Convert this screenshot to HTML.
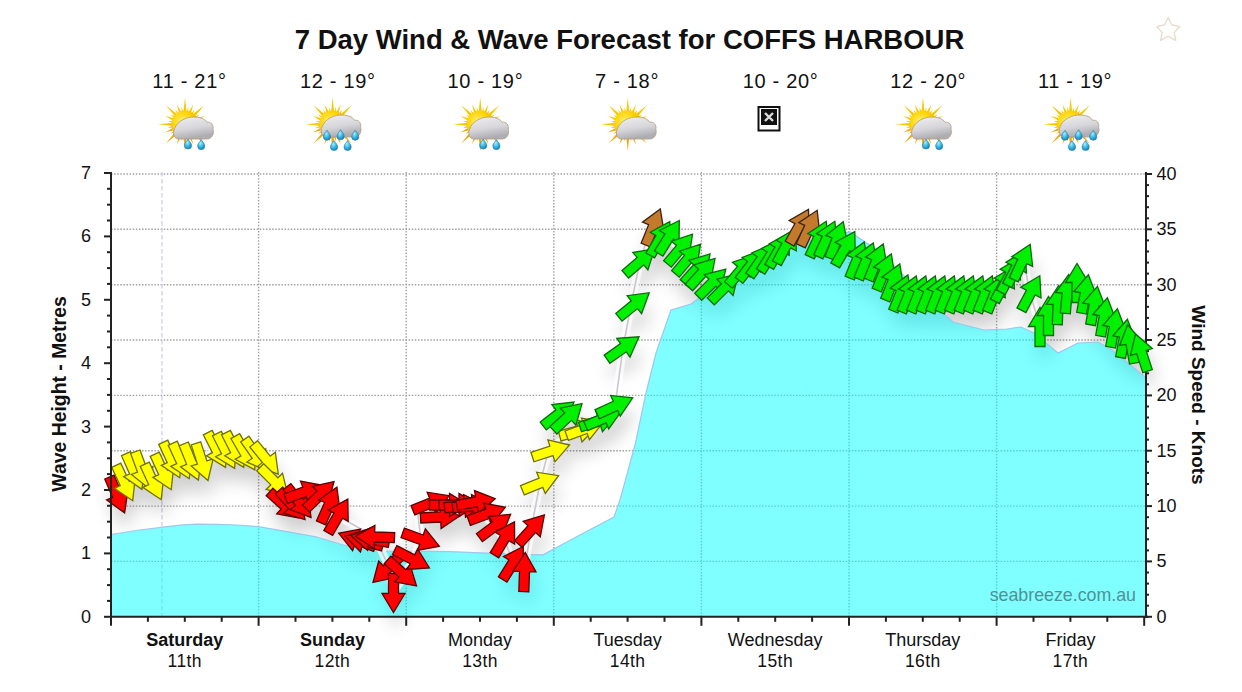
<!DOCTYPE html>
<html><head><meta charset="utf-8"><style>html,body{margin:0;padding:0;background:#fff;width:1242px;height:692px;overflow:hidden}svg{display:block}text{font-family:"Liberation Sans",sans-serif}</style></head>
<body><svg width="1242" height="692" viewBox="0 0 1242 692" font-family="Liberation Sans, sans-serif">
<defs>
<radialGradient id="sung" cx="0.4" cy="0.4" r="0.7"><stop offset="0" stop-color="#fff070"/><stop offset="0.55" stop-color="#ffd400"/><stop offset="1" stop-color="#f0a000"/></radialGradient>
<linearGradient id="cloudg" x1="0" y1="0" x2="0.3" y2="1"><stop offset="0" stop-color="#f0f0f2"/><stop offset="0.6" stop-color="#d6d6da"/><stop offset="1" stop-color="#aeaeb2"/></linearGradient>
<radialGradient id="dropg" cx="0.4" cy="0.35" r="0.7"><stop offset="0" stop-color="#9ff0ff"/><stop offset="0.6" stop-color="#30b0e0"/><stop offset="1" stop-color="#1a78b0"/></radialGradient>
<filter id="shadow" x="-10%" y="-10%" width="130%" height="140%"><feGaussianBlur stdDeviation="9"/><feOffset dx="3" dy="15"/></filter>
</defs>
<rect width="1242" height="692" fill="#fff"/>
<text x="629.5" y="48.8" text-anchor="middle" font-size="27.5" font-weight="bold" fill="#111">7 Day Wind &amp; Wave Forecast for COFFS HARBOUR</text><text x="152.3" y="87.5" font-size="20" letter-spacing="0.7" fill="#111">11 - 21°</text><text x="299.9" y="87.5" font-size="20" letter-spacing="0.7" fill="#111">12 - 19°</text><text x="447.5" y="87.5" font-size="20" letter-spacing="0.7" fill="#111">10 - 19°</text><text x="595.1" y="87.5" font-size="20" letter-spacing="0.7" fill="#111">7 - 18°</text><text x="742.7" y="87.5" font-size="20" letter-spacing="0.7" fill="#111">10 - 20°</text><text x="890.3" y="87.5" font-size="20" letter-spacing="0.7" fill="#111">12 - 20°</text><text x="1037.9" y="87.5" font-size="20" letter-spacing="0.7" fill="#111">11 - 19°</text><polygon points="1168.2,17.5 1171.6,24.8 1179.8,26.6 1174.2,32.6 1175.8,40.4 1168.2,36.4 1160.6,40.4 1162.2,32.6 1156.6,26.6 1164.8,24.8" fill="none" stroke="#ecdccb" stroke-width="1.4" stroke-linejoin="round"/>
<g transform="translate(185.0,124.3)"><polygon points="-1.6,-11.4 0.0,-27.0 1.6,-11.4" fill="#f6c800"/><polygon points="1.1,-11.4 3.4,-17.2 3.3,-11.0" fill="#f6c800"/><polygon points="3.0,-11.1 8.2,-19.9 5.7,-10.0" fill="#f6c800"/><polygon points="5.4,-10.1 9.7,-14.6 7.3,-8.9" fill="#f6c800"/><polygon points="6.9,-9.2 19.1,-19.1 9.2,-6.9" fill="#f6c800"/><polygon points="8.9,-7.3 14.6,-9.7 10.1,-5.4" fill="#f6c800"/><polygon points="10.0,-5.7 19.9,-8.2 11.1,-3.0" fill="#f6c800"/><polygon points="11.0,-3.3 17.2,-3.4 11.4,-1.1" fill="#f6c800"/><polygon points="11.4,-1.6 27.0,0.0 11.4,1.6" fill="#f6c800"/><polygon points="11.4,1.1 17.2,3.4 11.0,3.3" fill="#eeaa10"/><polygon points="11.1,3.0 19.9,8.2 10.0,5.7" fill="#eeaa10"/><polygon points="10.1,5.4 14.6,9.7 8.9,7.3" fill="#eeaa10"/><polygon points="9.2,6.9 19.1,19.1 6.9,9.2" fill="#eeaa10"/><polygon points="7.3,8.9 9.7,14.6 5.4,10.1" fill="#eeaa10"/><polygon points="5.7,10.0 8.2,19.9 3.0,11.1" fill="#eeaa10"/><polygon points="3.3,11.0 3.4,17.2 1.1,11.4" fill="#eeaa10"/><polygon points="1.6,11.4 0.0,27.0 -1.6,11.4" fill="#eeaa10"/><polygon points="-1.1,11.4 -3.4,17.2 -3.3,11.0" fill="#eeaa10"/><polygon points="-3.0,11.1 -8.2,19.9 -5.7,10.0" fill="#eeaa10"/><polygon points="-5.4,10.1 -9.7,14.6 -7.3,8.9" fill="#eeaa10"/><polygon points="-6.9,9.2 -19.1,19.1 -9.2,6.9" fill="#eeaa10"/><polygon points="-8.9,7.3 -14.6,9.7 -10.1,5.4" fill="#eeaa10"/><polygon points="-10.0,5.7 -19.9,8.2 -11.1,3.0" fill="#eeaa10"/><polygon points="-11.0,3.3 -17.2,3.4 -11.4,1.1" fill="#eeaa10"/><polygon points="-11.4,1.6 -27.0,0.0 -11.4,-1.6" fill="#f6c800"/><polygon points="-11.4,-1.1 -17.2,-3.4 -11.0,-3.3" fill="#f6c800"/><polygon points="-11.1,-3.0 -19.9,-8.2 -10.0,-5.7" fill="#f6c800"/><polygon points="-10.1,-5.4 -14.6,-9.7 -8.9,-7.3" fill="#f6c800"/><polygon points="-9.2,-6.9 -19.1,-19.1 -6.9,-9.2" fill="#f6c800"/><polygon points="-7.3,-8.9 -9.7,-14.6 -5.4,-10.1" fill="#f6c800"/><polygon points="-5.7,-10.0 -8.2,-19.9 -3.0,-11.1" fill="#f6c800"/><polygon points="-3.3,-11.0 -3.4,-17.2 -1.1,-11.4" fill="#f6c800"/><circle cx="0" cy="0" r="13.5" fill="url(#sung)"/><path transform="translate(0,0)" d="M-6,14.7 C-11,14.7 -12.5,9 -10.5,4.5 C-8,-3 2,-8 10,-7.2 C16,-7.2 20,-5 22,-2 C26,-3 29,1 28,5 C29.5,9 27,14.7 22,14.7 Z" fill="url(#cloudg)" stroke="#b09a80" stroke-width="0.8"/><path transform="translate(3,20.7)" d="M0,-6 C1.5,-3.5 3.6,-2 3.6,0.5 A3.6,3.6 0 1 1 -3.6,0.5 C-3.6,-2 -1.5,-3.5 0,-6 Z" fill="url(#dropg)" stroke="#2a80a8" stroke-width="0.6"/><path transform="translate(16.2,21.3)" d="M0,-6 C1.5,-3.5 3.6,-2 3.6,0.5 A3.6,3.6 0 1 1 -3.6,0.5 C-3.6,-2 -1.5,-3.5 0,-6 Z" fill="url(#dropg)" stroke="#2a80a8" stroke-width="0.6"/></g><g transform="translate(332.6,124.3)"><polygon points="-1.6,-11.4 0.0,-27.0 1.6,-11.4" fill="#f6c800"/><polygon points="1.1,-11.4 3.4,-17.2 3.3,-11.0" fill="#f6c800"/><polygon points="3.0,-11.1 8.2,-19.9 5.7,-10.0" fill="#f6c800"/><polygon points="5.4,-10.1 9.7,-14.6 7.3,-8.9" fill="#f6c800"/><polygon points="6.9,-9.2 19.1,-19.1 9.2,-6.9" fill="#f6c800"/><polygon points="8.9,-7.3 14.6,-9.7 10.1,-5.4" fill="#f6c800"/><polygon points="10.0,-5.7 19.9,-8.2 11.1,-3.0" fill="#f6c800"/><polygon points="11.0,-3.3 17.2,-3.4 11.4,-1.1" fill="#f6c800"/><polygon points="11.4,-1.6 27.0,0.0 11.4,1.6" fill="#f6c800"/><polygon points="11.4,1.1 17.2,3.4 11.0,3.3" fill="#eeaa10"/><polygon points="11.1,3.0 19.9,8.2 10.0,5.7" fill="#eeaa10"/><polygon points="10.1,5.4 14.6,9.7 8.9,7.3" fill="#eeaa10"/><polygon points="9.2,6.9 19.1,19.1 6.9,9.2" fill="#eeaa10"/><polygon points="7.3,8.9 9.7,14.6 5.4,10.1" fill="#eeaa10"/><polygon points="5.7,10.0 8.2,19.9 3.0,11.1" fill="#eeaa10"/><polygon points="3.3,11.0 3.4,17.2 1.1,11.4" fill="#eeaa10"/><polygon points="1.6,11.4 0.0,27.0 -1.6,11.4" fill="#eeaa10"/><polygon points="-1.1,11.4 -3.4,17.2 -3.3,11.0" fill="#eeaa10"/><polygon points="-3.0,11.1 -8.2,19.9 -5.7,10.0" fill="#eeaa10"/><polygon points="-5.4,10.1 -9.7,14.6 -7.3,8.9" fill="#eeaa10"/><polygon points="-6.9,9.2 -19.1,19.1 -9.2,6.9" fill="#eeaa10"/><polygon points="-8.9,7.3 -14.6,9.7 -10.1,5.4" fill="#eeaa10"/><polygon points="-10.0,5.7 -19.9,8.2 -11.1,3.0" fill="#eeaa10"/><polygon points="-11.0,3.3 -17.2,3.4 -11.4,1.1" fill="#eeaa10"/><polygon points="-11.4,1.6 -27.0,0.0 -11.4,-1.6" fill="#f6c800"/><polygon points="-11.4,-1.1 -17.2,-3.4 -11.0,-3.3" fill="#f6c800"/><polygon points="-11.1,-3.0 -19.9,-8.2 -10.0,-5.7" fill="#f6c800"/><polygon points="-10.1,-5.4 -14.6,-9.7 -8.9,-7.3" fill="#f6c800"/><polygon points="-9.2,-6.9 -19.1,-19.1 -6.9,-9.2" fill="#f6c800"/><polygon points="-7.3,-8.9 -9.7,-14.6 -5.4,-10.1" fill="#f6c800"/><polygon points="-5.7,-10.0 -8.2,-19.9 -3.0,-11.1" fill="#f6c800"/><polygon points="-3.3,-11.0 -3.4,-17.2 -1.1,-11.4" fill="#f6c800"/><circle cx="0" cy="0" r="13.5" fill="url(#sung)"/><path transform="translate(0,-2)" d="M-6,14.7 C-11,14.7 -12.5,9 -10.5,4.5 C-8,-3 2,-8 10,-7.2 C16,-7.2 20,-5 22,-2 C26,-3 29,1 28,5 C29.5,9 27,14.7 22,14.7 Z" fill="url(#cloudg)" stroke="#b09a80" stroke-width="0.8"/><path transform="translate(-5.6,11.9)" d="M0,-6 C1.5,-3.5 3.6,-2 3.6,0.5 A3.6,3.6 0 1 1 -3.6,0.5 C-3.6,-2 -1.5,-3.5 0,-6 Z" fill="url(#dropg)" stroke="#2a80a8" stroke-width="0.6"/><path transform="translate(8,11.4)" d="M0,-6 C1.5,-3.5 3.6,-2 3.6,0.5 A3.6,3.6 0 1 1 -3.6,0.5 C-3.6,-2 -1.5,-3.5 0,-6 Z" fill="url(#dropg)" stroke="#2a80a8" stroke-width="0.6"/><path transform="translate(22.6,11.9)" d="M0,-6 C1.5,-3.5 3.6,-2 3.6,0.5 A3.6,3.6 0 1 1 -3.6,0.5 C-3.6,-2 -1.5,-3.5 0,-6 Z" fill="url(#dropg)" stroke="#2a80a8" stroke-width="0.6"/><path transform="translate(1.4,22.2)" d="M0,-6 C1.5,-3.5 3.6,-2 3.6,0.5 A3.6,3.6 0 1 1 -3.6,0.5 C-3.6,-2 -1.5,-3.5 0,-6 Z" fill="url(#dropg)" stroke="#2a80a8" stroke-width="0.6"/><path transform="translate(15,22.2)" d="M0,-6 C1.5,-3.5 3.6,-2 3.6,0.5 A3.6,3.6 0 1 1 -3.6,0.5 C-3.6,-2 -1.5,-3.5 0,-6 Z" fill="url(#dropg)" stroke="#2a80a8" stroke-width="0.6"/></g><g transform="translate(480.2,124.3)"><polygon points="-1.6,-11.4 0.0,-27.0 1.6,-11.4" fill="#f6c800"/><polygon points="1.1,-11.4 3.4,-17.2 3.3,-11.0" fill="#f6c800"/><polygon points="3.0,-11.1 8.2,-19.9 5.7,-10.0" fill="#f6c800"/><polygon points="5.4,-10.1 9.7,-14.6 7.3,-8.9" fill="#f6c800"/><polygon points="6.9,-9.2 19.1,-19.1 9.2,-6.9" fill="#f6c800"/><polygon points="8.9,-7.3 14.6,-9.7 10.1,-5.4" fill="#f6c800"/><polygon points="10.0,-5.7 19.9,-8.2 11.1,-3.0" fill="#f6c800"/><polygon points="11.0,-3.3 17.2,-3.4 11.4,-1.1" fill="#f6c800"/><polygon points="11.4,-1.6 27.0,0.0 11.4,1.6" fill="#f6c800"/><polygon points="11.4,1.1 17.2,3.4 11.0,3.3" fill="#eeaa10"/><polygon points="11.1,3.0 19.9,8.2 10.0,5.7" fill="#eeaa10"/><polygon points="10.1,5.4 14.6,9.7 8.9,7.3" fill="#eeaa10"/><polygon points="9.2,6.9 19.1,19.1 6.9,9.2" fill="#eeaa10"/><polygon points="7.3,8.9 9.7,14.6 5.4,10.1" fill="#eeaa10"/><polygon points="5.7,10.0 8.2,19.9 3.0,11.1" fill="#eeaa10"/><polygon points="3.3,11.0 3.4,17.2 1.1,11.4" fill="#eeaa10"/><polygon points="1.6,11.4 0.0,27.0 -1.6,11.4" fill="#eeaa10"/><polygon points="-1.1,11.4 -3.4,17.2 -3.3,11.0" fill="#eeaa10"/><polygon points="-3.0,11.1 -8.2,19.9 -5.7,10.0" fill="#eeaa10"/><polygon points="-5.4,10.1 -9.7,14.6 -7.3,8.9" fill="#eeaa10"/><polygon points="-6.9,9.2 -19.1,19.1 -9.2,6.9" fill="#eeaa10"/><polygon points="-8.9,7.3 -14.6,9.7 -10.1,5.4" fill="#eeaa10"/><polygon points="-10.0,5.7 -19.9,8.2 -11.1,3.0" fill="#eeaa10"/><polygon points="-11.0,3.3 -17.2,3.4 -11.4,1.1" fill="#eeaa10"/><polygon points="-11.4,1.6 -27.0,0.0 -11.4,-1.6" fill="#f6c800"/><polygon points="-11.4,-1.1 -17.2,-3.4 -11.0,-3.3" fill="#f6c800"/><polygon points="-11.1,-3.0 -19.9,-8.2 -10.0,-5.7" fill="#f6c800"/><polygon points="-10.1,-5.4 -14.6,-9.7 -8.9,-7.3" fill="#f6c800"/><polygon points="-9.2,-6.9 -19.1,-19.1 -6.9,-9.2" fill="#f6c800"/><polygon points="-7.3,-8.9 -9.7,-14.6 -5.4,-10.1" fill="#f6c800"/><polygon points="-5.7,-10.0 -8.2,-19.9 -3.0,-11.1" fill="#f6c800"/><polygon points="-3.3,-11.0 -3.4,-17.2 -1.1,-11.4" fill="#f6c800"/><circle cx="0" cy="0" r="13.5" fill="url(#sung)"/><path transform="translate(0,0)" d="M-6,14.7 C-11,14.7 -12.5,9 -10.5,4.5 C-8,-3 2,-8 10,-7.2 C16,-7.2 20,-5 22,-2 C26,-3 29,1 28,5 C29.5,9 27,14.7 22,14.7 Z" fill="url(#cloudg)" stroke="#b09a80" stroke-width="0.8"/><path transform="translate(3,20.7)" d="M0,-6 C1.5,-3.5 3.6,-2 3.6,0.5 A3.6,3.6 0 1 1 -3.6,0.5 C-3.6,-2 -1.5,-3.5 0,-6 Z" fill="url(#dropg)" stroke="#2a80a8" stroke-width="0.6"/><path transform="translate(16.2,21.3)" d="M0,-6 C1.5,-3.5 3.6,-2 3.6,0.5 A3.6,3.6 0 1 1 -3.6,0.5 C-3.6,-2 -1.5,-3.5 0,-6 Z" fill="url(#dropg)" stroke="#2a80a8" stroke-width="0.6"/></g><g transform="translate(627.8,124.3)"><polygon points="-1.6,-11.4 0.0,-27.0 1.6,-11.4" fill="#f6c800"/><polygon points="1.1,-11.4 3.4,-17.2 3.3,-11.0" fill="#f6c800"/><polygon points="3.0,-11.1 8.2,-19.9 5.7,-10.0" fill="#f6c800"/><polygon points="5.4,-10.1 9.7,-14.6 7.3,-8.9" fill="#f6c800"/><polygon points="6.9,-9.2 19.1,-19.1 9.2,-6.9" fill="#f6c800"/><polygon points="8.9,-7.3 14.6,-9.7 10.1,-5.4" fill="#f6c800"/><polygon points="10.0,-5.7 19.9,-8.2 11.1,-3.0" fill="#f6c800"/><polygon points="11.0,-3.3 17.2,-3.4 11.4,-1.1" fill="#f6c800"/><polygon points="11.4,-1.6 27.0,0.0 11.4,1.6" fill="#f6c800"/><polygon points="11.4,1.1 17.2,3.4 11.0,3.3" fill="#eeaa10"/><polygon points="11.1,3.0 19.9,8.2 10.0,5.7" fill="#eeaa10"/><polygon points="10.1,5.4 14.6,9.7 8.9,7.3" fill="#eeaa10"/><polygon points="9.2,6.9 19.1,19.1 6.9,9.2" fill="#eeaa10"/><polygon points="7.3,8.9 9.7,14.6 5.4,10.1" fill="#eeaa10"/><polygon points="5.7,10.0 8.2,19.9 3.0,11.1" fill="#eeaa10"/><polygon points="3.3,11.0 3.4,17.2 1.1,11.4" fill="#eeaa10"/><polygon points="1.6,11.4 0.0,27.0 -1.6,11.4" fill="#eeaa10"/><polygon points="-1.1,11.4 -3.4,17.2 -3.3,11.0" fill="#eeaa10"/><polygon points="-3.0,11.1 -8.2,19.9 -5.7,10.0" fill="#eeaa10"/><polygon points="-5.4,10.1 -9.7,14.6 -7.3,8.9" fill="#eeaa10"/><polygon points="-6.9,9.2 -19.1,19.1 -9.2,6.9" fill="#eeaa10"/><polygon points="-8.9,7.3 -14.6,9.7 -10.1,5.4" fill="#eeaa10"/><polygon points="-10.0,5.7 -19.9,8.2 -11.1,3.0" fill="#eeaa10"/><polygon points="-11.0,3.3 -17.2,3.4 -11.4,1.1" fill="#eeaa10"/><polygon points="-11.4,1.6 -27.0,0.0 -11.4,-1.6" fill="#f6c800"/><polygon points="-11.4,-1.1 -17.2,-3.4 -11.0,-3.3" fill="#f6c800"/><polygon points="-11.1,-3.0 -19.9,-8.2 -10.0,-5.7" fill="#f6c800"/><polygon points="-10.1,-5.4 -14.6,-9.7 -8.9,-7.3" fill="#f6c800"/><polygon points="-9.2,-6.9 -19.1,-19.1 -6.9,-9.2" fill="#f6c800"/><polygon points="-7.3,-8.9 -9.7,-14.6 -5.4,-10.1" fill="#f6c800"/><polygon points="-5.7,-10.0 -8.2,-19.9 -3.0,-11.1" fill="#f6c800"/><polygon points="-3.3,-11.0 -3.4,-17.2 -1.1,-11.4" fill="#f6c800"/><circle cx="0" cy="0" r="13.5" fill="url(#sung)"/><path transform="translate(0,0)" d="M-6,14.7 C-11,14.7 -12.5,9 -10.5,4.5 C-8,-3 2,-8 10,-7.2 C16,-7.2 20,-5 22,-2 C26,-3 29,1 28,5 C29.5,9 27,14.7 22,14.7 Z" fill="url(#cloudg)" stroke="#b09a80" stroke-width="0.8"/></g><rect x="758.5" y="107" width="21" height="23.5" fill="#fff" stroke="#111" stroke-width="2"/><rect x="761" y="109" width="16" height="16" fill="#111"/><path d="M765,113 L773,121 M773,113 L765,121" stroke="#ddd" stroke-width="2.4"/><g transform="translate(923.0,124.3)"><polygon points="-1.6,-11.4 0.0,-27.0 1.6,-11.4" fill="#f6c800"/><polygon points="1.1,-11.4 3.4,-17.2 3.3,-11.0" fill="#f6c800"/><polygon points="3.0,-11.1 8.2,-19.9 5.7,-10.0" fill="#f6c800"/><polygon points="5.4,-10.1 9.7,-14.6 7.3,-8.9" fill="#f6c800"/><polygon points="6.9,-9.2 19.1,-19.1 9.2,-6.9" fill="#f6c800"/><polygon points="8.9,-7.3 14.6,-9.7 10.1,-5.4" fill="#f6c800"/><polygon points="10.0,-5.7 19.9,-8.2 11.1,-3.0" fill="#f6c800"/><polygon points="11.0,-3.3 17.2,-3.4 11.4,-1.1" fill="#f6c800"/><polygon points="11.4,-1.6 27.0,0.0 11.4,1.6" fill="#f6c800"/><polygon points="11.4,1.1 17.2,3.4 11.0,3.3" fill="#eeaa10"/><polygon points="11.1,3.0 19.9,8.2 10.0,5.7" fill="#eeaa10"/><polygon points="10.1,5.4 14.6,9.7 8.9,7.3" fill="#eeaa10"/><polygon points="9.2,6.9 19.1,19.1 6.9,9.2" fill="#eeaa10"/><polygon points="7.3,8.9 9.7,14.6 5.4,10.1" fill="#eeaa10"/><polygon points="5.7,10.0 8.2,19.9 3.0,11.1" fill="#eeaa10"/><polygon points="3.3,11.0 3.4,17.2 1.1,11.4" fill="#eeaa10"/><polygon points="1.6,11.4 0.0,27.0 -1.6,11.4" fill="#eeaa10"/><polygon points="-1.1,11.4 -3.4,17.2 -3.3,11.0" fill="#eeaa10"/><polygon points="-3.0,11.1 -8.2,19.9 -5.7,10.0" fill="#eeaa10"/><polygon points="-5.4,10.1 -9.7,14.6 -7.3,8.9" fill="#eeaa10"/><polygon points="-6.9,9.2 -19.1,19.1 -9.2,6.9" fill="#eeaa10"/><polygon points="-8.9,7.3 -14.6,9.7 -10.1,5.4" fill="#eeaa10"/><polygon points="-10.0,5.7 -19.9,8.2 -11.1,3.0" fill="#eeaa10"/><polygon points="-11.0,3.3 -17.2,3.4 -11.4,1.1" fill="#eeaa10"/><polygon points="-11.4,1.6 -27.0,0.0 -11.4,-1.6" fill="#f6c800"/><polygon points="-11.4,-1.1 -17.2,-3.4 -11.0,-3.3" fill="#f6c800"/><polygon points="-11.1,-3.0 -19.9,-8.2 -10.0,-5.7" fill="#f6c800"/><polygon points="-10.1,-5.4 -14.6,-9.7 -8.9,-7.3" fill="#f6c800"/><polygon points="-9.2,-6.9 -19.1,-19.1 -6.9,-9.2" fill="#f6c800"/><polygon points="-7.3,-8.9 -9.7,-14.6 -5.4,-10.1" fill="#f6c800"/><polygon points="-5.7,-10.0 -8.2,-19.9 -3.0,-11.1" fill="#f6c800"/><polygon points="-3.3,-11.0 -3.4,-17.2 -1.1,-11.4" fill="#f6c800"/><circle cx="0" cy="0" r="13.5" fill="url(#sung)"/><path transform="translate(0,0)" d="M-6,14.7 C-11,14.7 -12.5,9 -10.5,4.5 C-8,-3 2,-8 10,-7.2 C16,-7.2 20,-5 22,-2 C26,-3 29,1 28,5 C29.5,9 27,14.7 22,14.7 Z" fill="url(#cloudg)" stroke="#b09a80" stroke-width="0.8"/><path transform="translate(3,20.7)" d="M0,-6 C1.5,-3.5 3.6,-2 3.6,0.5 A3.6,3.6 0 1 1 -3.6,0.5 C-3.6,-2 -1.5,-3.5 0,-6 Z" fill="url(#dropg)" stroke="#2a80a8" stroke-width="0.6"/><path transform="translate(16.2,21.3)" d="M0,-6 C1.5,-3.5 3.6,-2 3.6,0.5 A3.6,3.6 0 1 1 -3.6,0.5 C-3.6,-2 -1.5,-3.5 0,-6 Z" fill="url(#dropg)" stroke="#2a80a8" stroke-width="0.6"/></g><g transform="translate(1070.6,124.3)"><polygon points="-1.6,-11.4 0.0,-27.0 1.6,-11.4" fill="#f6c800"/><polygon points="1.1,-11.4 3.4,-17.2 3.3,-11.0" fill="#f6c800"/><polygon points="3.0,-11.1 8.2,-19.9 5.7,-10.0" fill="#f6c800"/><polygon points="5.4,-10.1 9.7,-14.6 7.3,-8.9" fill="#f6c800"/><polygon points="6.9,-9.2 19.1,-19.1 9.2,-6.9" fill="#f6c800"/><polygon points="8.9,-7.3 14.6,-9.7 10.1,-5.4" fill="#f6c800"/><polygon points="10.0,-5.7 19.9,-8.2 11.1,-3.0" fill="#f6c800"/><polygon points="11.0,-3.3 17.2,-3.4 11.4,-1.1" fill="#f6c800"/><polygon points="11.4,-1.6 27.0,0.0 11.4,1.6" fill="#f6c800"/><polygon points="11.4,1.1 17.2,3.4 11.0,3.3" fill="#eeaa10"/><polygon points="11.1,3.0 19.9,8.2 10.0,5.7" fill="#eeaa10"/><polygon points="10.1,5.4 14.6,9.7 8.9,7.3" fill="#eeaa10"/><polygon points="9.2,6.9 19.1,19.1 6.9,9.2" fill="#eeaa10"/><polygon points="7.3,8.9 9.7,14.6 5.4,10.1" fill="#eeaa10"/><polygon points="5.7,10.0 8.2,19.9 3.0,11.1" fill="#eeaa10"/><polygon points="3.3,11.0 3.4,17.2 1.1,11.4" fill="#eeaa10"/><polygon points="1.6,11.4 0.0,27.0 -1.6,11.4" fill="#eeaa10"/><polygon points="-1.1,11.4 -3.4,17.2 -3.3,11.0" fill="#eeaa10"/><polygon points="-3.0,11.1 -8.2,19.9 -5.7,10.0" fill="#eeaa10"/><polygon points="-5.4,10.1 -9.7,14.6 -7.3,8.9" fill="#eeaa10"/><polygon points="-6.9,9.2 -19.1,19.1 -9.2,6.9" fill="#eeaa10"/><polygon points="-8.9,7.3 -14.6,9.7 -10.1,5.4" fill="#eeaa10"/><polygon points="-10.0,5.7 -19.9,8.2 -11.1,3.0" fill="#eeaa10"/><polygon points="-11.0,3.3 -17.2,3.4 -11.4,1.1" fill="#eeaa10"/><polygon points="-11.4,1.6 -27.0,0.0 -11.4,-1.6" fill="#f6c800"/><polygon points="-11.4,-1.1 -17.2,-3.4 -11.0,-3.3" fill="#f6c800"/><polygon points="-11.1,-3.0 -19.9,-8.2 -10.0,-5.7" fill="#f6c800"/><polygon points="-10.1,-5.4 -14.6,-9.7 -8.9,-7.3" fill="#f6c800"/><polygon points="-9.2,-6.9 -19.1,-19.1 -6.9,-9.2" fill="#f6c800"/><polygon points="-7.3,-8.9 -9.7,-14.6 -5.4,-10.1" fill="#f6c800"/><polygon points="-5.7,-10.0 -8.2,-19.9 -3.0,-11.1" fill="#f6c800"/><polygon points="-3.3,-11.0 -3.4,-17.2 -1.1,-11.4" fill="#f6c800"/><circle cx="0" cy="0" r="13.5" fill="url(#sung)"/><path transform="translate(0,-2)" d="M-6,14.7 C-11,14.7 -12.5,9 -10.5,4.5 C-8,-3 2,-8 10,-7.2 C16,-7.2 20,-5 22,-2 C26,-3 29,1 28,5 C29.5,9 27,14.7 22,14.7 Z" fill="url(#cloudg)" stroke="#b09a80" stroke-width="0.8"/><path transform="translate(-5.6,11.9)" d="M0,-6 C1.5,-3.5 3.6,-2 3.6,0.5 A3.6,3.6 0 1 1 -3.6,0.5 C-3.6,-2 -1.5,-3.5 0,-6 Z" fill="url(#dropg)" stroke="#2a80a8" stroke-width="0.6"/><path transform="translate(8,11.4)" d="M0,-6 C1.5,-3.5 3.6,-2 3.6,0.5 A3.6,3.6 0 1 1 -3.6,0.5 C-3.6,-2 -1.5,-3.5 0,-6 Z" fill="url(#dropg)" stroke="#2a80a8" stroke-width="0.6"/><path transform="translate(22.6,11.9)" d="M0,-6 C1.5,-3.5 3.6,-2 3.6,0.5 A3.6,3.6 0 1 1 -3.6,0.5 C-3.6,-2 -1.5,-3.5 0,-6 Z" fill="url(#dropg)" stroke="#2a80a8" stroke-width="0.6"/><path transform="translate(1.4,22.2)" d="M0,-6 C1.5,-3.5 3.6,-2 3.6,0.5 A3.6,3.6 0 1 1 -3.6,0.5 C-3.6,-2 -1.5,-3.5 0,-6 Z" fill="url(#dropg)" stroke="#2a80a8" stroke-width="0.6"/><path transform="translate(15,22.2)" d="M0,-6 C1.5,-3.5 3.6,-2 3.6,0.5 A3.6,3.6 0 1 1 -3.6,0.5 C-3.6,-2 -1.5,-3.5 0,-6 Z" fill="url(#dropg)" stroke="#2a80a8" stroke-width="0.6"/></g>
<g stroke="#a2a2a2" stroke-width="1.4" stroke-dasharray="1.5,1.6"><line x1="111" y1="561.4" x2="1147" y2="561.4"/><line x1="111" y1="506.1" x2="1147" y2="506.1"/><line x1="111" y1="450.7" x2="1147" y2="450.7"/><line x1="111" y1="395.4" x2="1147" y2="395.4"/><line x1="111" y1="340.0" x2="1147" y2="340.0"/><line x1="111" y1="284.7" x2="1147" y2="284.7"/><line x1="111" y1="229.3" x2="1147" y2="229.3"/><line x1="111" y1="174.0" x2="1147" y2="174.0"/><line x1="258.6" y1="172" x2="258.6" y2="616.8"/><line x1="406.2" y1="172" x2="406.2" y2="616.8"/><line x1="553.8" y1="172" x2="553.8" y2="616.8"/><line x1="701.4" y1="172" x2="701.4" y2="616.8"/><line x1="849.0" y1="172" x2="849.0" y2="616.8"/><line x1="996.6" y1="172" x2="996.6" y2="616.8"/></g>
<line x1="162" y1="172" x2="162" y2="616.8" stroke="#cacaee" stroke-width="1.2" stroke-dasharray="4.5,2.5"/>
<g filter="url(#shadow)" fill="#000" opacity="0.19"><polygon points="114.0,475.1 121.8,493.5 127.8,491.0 124.6,512.9 106.6,500.0 112.6,497.4 104.8,479.0"/><polygon points="120.8,463.2 129.2,481.3 135.1,478.6 132.7,500.7 114.3,488.3 120.2,485.6 111.7,467.4"/><polygon points="130.6,451.7 138.8,469.9 144.7,467.3 141.9,489.3 123.7,476.6 129.6,474.0 121.5,455.7"/><polygon points="140.0,450.0 146.9,468.8 153.0,466.5 148.7,488.3 131.4,474.4 137.5,472.2 130.6,453.4"/><polygon points="149.3,462.2 157.7,480.3 163.6,477.6 161.2,499.7 142.8,487.3 148.7,484.6 140.2,466.4"/><polygon points="159.3,452.2 167.7,470.3 173.6,467.6 171.2,489.7 152.8,477.3 158.7,474.6 150.2,456.4"/><polygon points="167.8,440.2 176.2,458.3 182.1,455.6 179.7,477.7 161.3,465.3 167.2,462.6 158.7,444.4"/><polygon points="177.3,441.2 185.7,459.3 191.6,456.6 189.2,478.7 170.8,466.3 176.7,463.6 168.2,445.4"/><polygon points="188.3,442.0 195.8,460.6 201.8,458.2 198.3,480.1 180.5,466.8 186.6,464.3 179.1,445.8"/><polygon points="200.7,441.9 206.9,460.9 213.1,458.9 208.0,480.5 191.2,466.0 197.4,464.0 191.2,445.0"/><polygon points="212.2,430.4 221.3,448.2 227.1,445.2 225.5,467.4 206.6,455.7 212.4,452.7 203.3,434.9"/><polygon points="221.3,431.4 230.4,449.2 236.2,446.2 234.6,468.4 215.7,456.7 221.5,453.7 212.4,435.9"/><polygon points="230.4,430.4 239.5,448.2 245.3,445.2 243.7,467.4 224.8,455.7 230.6,452.7 221.5,434.9"/><polygon points="239.6,433.6 249.6,450.9 255.2,447.7 254.8,469.9 235.3,459.2 240.9,455.9 230.9,438.6"/><polygon points="248.9,436.2 260.4,452.5 265.7,448.8 267.2,471.0 246.9,462.0 252.2,458.3 240.7,441.9"/><polygon points="257.6,440.7 270.2,456.2 275.3,452.2 278.3,474.2 257.4,466.6 262.4,462.5 249.8,447.0"/><polygon points="263.7,463.7 277.9,477.8 282.5,473.2 287.8,494.8 266.2,489.5 270.8,484.9 256.7,470.7"/><polygon points="272.9,488.2 287.7,501.6 292.1,496.8 298.5,518.0 276.7,513.9 281.0,509.1 266.2,495.7"/><polygon points="282.7,487.2 296.1,502.0 300.9,497.7 305.0,519.5 283.8,513.1 288.6,508.7 275.2,493.9"/><polygon points="290.9,483.6 303.2,499.3 308.4,495.3 311.0,517.4 290.2,509.5 295.4,505.5 283.1,489.7"/><polygon points="284.0,494.0 302.8,487.1 300.5,481.0 322.3,485.3 308.4,502.6 306.2,496.5 287.4,503.4"/><polygon points="302.5,504.9 316.9,491.1 312.4,486.4 334.0,481.5 328.3,502.9 323.8,498.2 309.4,512.1"/><polygon points="316.5,520.8 324.6,502.5 318.7,499.9 336.9,487.2 339.7,509.2 333.8,506.6 325.6,524.8"/><polygon points="323.9,530.4 333.9,513.1 328.3,509.8 347.8,499.1 348.2,521.3 342.6,518.1 332.6,535.4"/><polygon points="373.6,551.4 354.8,544.5 352.6,550.6 338.7,533.3 360.5,529.0 358.2,535.1 377.0,542.0"/><polygon points="381.5,550.9 362.2,545.7 360.5,552.0 345.2,536.0 366.5,529.8 364.8,536.0 384.1,541.2"/><polygon points="388.3,547.3 368.6,543.8 367.5,550.2 350.8,535.6 371.5,527.6 370.4,534.0 390.1,537.5"/><polygon points="394.3,542.7 374.3,542.0 374.1,548.5 355.5,536.3 374.9,525.5 374.7,532.0 394.7,532.7"/><polygon points="404.5,559.1 390.1,572.9 394.6,577.6 373.0,582.5 378.7,561.1 383.2,565.8 397.6,551.9"/><polygon points="398.5,573.5 398.5,593.5 405.0,593.5 393.5,612.5 382.0,593.5 388.5,593.5 388.5,573.5"/><polygon points="390.9,556.2 405.7,569.6 410.1,564.8 416.5,586.0 394.7,581.9 399.0,577.1 384.2,563.7"/><polygon points="396.9,545.7 414.7,554.8 417.7,549.0 429.4,567.9 407.2,569.5 410.2,563.7 392.4,554.6"/><polygon points="404.4,528.1 423.2,535.0 425.4,528.9 439.3,546.2 417.5,550.5 419.8,544.4 401.0,537.5"/><polygon points="411.0,505.7 429.6,498.2 427.2,492.2 449.1,495.7 435.8,513.5 433.3,507.4 414.8,514.9"/><polygon points="420.3,513.0 440.2,512.0 439.9,505.5 459.5,516.0 441.1,528.5 440.8,522.0 420.8,523.0"/><polygon points="429.5,500.0 449.5,500.0 449.5,493.5 468.5,505.0 449.5,516.5 449.5,510.0 429.5,510.0"/><polygon points="439.0,500.0 459.0,500.0 459.0,493.5 478.0,505.0 459.0,516.5 459.0,510.0 439.0,510.0"/><polygon points="444.1,502.7 464.1,501.0 463.5,494.5 483.4,504.3 465.5,517.4 464.9,510.9 445.0,512.7"/><polygon points="452.1,502.7 472.1,501.0 471.5,494.5 491.4,504.3 473.5,517.4 472.9,510.9 453.0,512.7"/><polygon points="455.9,500.5 475.6,497.0 474.5,490.6 495.2,498.6 478.5,513.2 477.4,506.8 457.7,510.3"/><polygon points="467.0,516.0 485.8,509.1 483.5,503.0 505.3,507.3 491.4,524.6 489.2,518.5 470.4,525.4"/><polygon points="476.4,533.7 492.4,521.7 488.5,516.5 510.6,514.3 502.3,534.9 498.4,529.7 482.4,541.7"/><polygon points="490.2,552.6 500.5,535.5 494.9,532.1 514.5,521.8 514.6,544.0 509.0,540.6 498.7,557.8"/><polygon points="498.4,576.9 509.0,559.9 503.5,556.5 523.3,546.5 523.0,568.7 517.5,565.2 506.9,582.2"/><polygon points="518.8,591.3 519.5,571.3 513.0,571.1 525.2,552.5 536.0,571.9 529.5,571.7 528.8,591.7"/><polygon points="514.6,540.6 528.0,525.8 523.2,521.4 544.4,515.0 540.3,536.8 535.5,532.5 522.1,547.3"/><polygon points="520.5,485.7 539.1,478.2 536.7,472.2 558.6,475.7 545.3,493.5 542.8,487.4 524.3,494.9"/><polygon points="530.9,452.3 549.9,446.1 547.9,439.9 569.5,445.0 555.0,461.8 553.0,455.6 534.0,461.8"/><polygon points="558.4,431.2 577.7,426.0 576.0,419.8 597.3,426.0 582.0,442.0 580.3,435.7 561.0,440.9"/><polygon points="565.0,431.0 583.8,424.1 581.5,418.0 603.3,422.3 589.4,439.6 587.2,433.5 568.4,440.4"/><polygon points="540.2,422.1 555.9,409.8 551.9,404.6 574.0,402.0 566.1,422.8 562.1,417.6 546.3,429.9"/><polygon points="550.0,426.6 564.7,413.0 560.2,408.2 582.0,403.7 575.9,425.1 571.5,420.3 556.8,434.0"/><polygon points="578.4,422.3 597.4,416.1 595.4,409.9 617.0,415.0 602.5,431.8 600.5,425.6 581.5,431.8"/><polygon points="583.8,421.5 602.2,413.7 599.7,407.7 621.6,410.9 608.7,428.9 606.1,422.9 587.7,430.7"/><polygon points="595.2,409.7 613.3,401.3 610.6,395.4 632.7,397.8 620.3,416.2 617.6,410.3 599.4,418.8"/><polygon points="604.2,355.1 620.5,343.6 616.8,338.3 639.0,336.8 630.0,357.1 626.3,351.8 609.9,363.3"/><polygon points="615.7,313.4 631.2,300.8 627.2,295.7 649.2,292.7 641.6,313.6 637.5,308.6 622.0,321.2"/><polygon points="622.0,270.5 637.1,257.4 632.8,252.5 654.7,248.7 647.9,269.9 643.7,264.9 628.6,278.1"/><polygon points="641.1,243.2 648.6,224.7 642.5,222.2 660.3,208.9 663.8,230.8 657.8,228.4 650.3,247.0"/><polygon points="645.9,252.9 655.9,235.6 650.3,232.3 669.8,221.6 670.2,243.8 664.6,240.6 654.6,257.9"/><polygon points="654.4,250.9 665.0,233.9 659.5,230.5 679.3,220.5 679.0,242.7 673.5,239.2 662.9,256.2"/><polygon points="663.6,260.7 676.5,245.4 671.5,241.2 692.5,234.1 689.1,256.0 684.2,251.8 671.3,267.2"/><polygon points="671.6,270.7 684.5,255.4 679.5,251.2 700.5,244.1 697.1,266.0 692.2,261.8 679.3,277.2"/><polygon points="680.2,279.6 693.6,264.8 688.8,260.4 710.0,254.0 705.9,275.8 701.1,271.5 687.7,286.3"/><polygon points="685.2,284.1 698.6,269.3 693.8,264.9 715.0,258.5 710.9,280.3 706.1,276.0 692.7,290.8"/><polygon points="694.7,293.3 708.8,279.1 704.2,274.5 725.8,269.2 720.5,290.8 715.9,286.2 701.7,300.3"/><polygon points="707.3,297.9 721.4,283.7 716.8,279.1 738.4,273.8 733.1,295.4 728.5,290.8 714.3,304.9"/><polygon points="724.6,281.7 737.5,266.4 732.5,262.2 753.5,255.1 750.1,277.0 745.2,272.8 732.3,288.2"/><polygon points="735.1,277.3 747.4,261.5 742.2,257.5 763.0,249.6 760.4,271.7 755.2,267.7 742.9,283.4"/><polygon points="745.7,273.1 757.2,256.7 751.9,253.0 772.2,244.0 770.7,266.2 765.4,262.5 753.9,278.8"/><polygon points="756.4,268.9 767.0,251.9 761.5,248.5 781.3,238.5 781.0,260.7 775.5,257.2 764.9,274.2"/><polygon points="764.9,264.4 774.9,247.1 769.3,243.8 788.8,233.1 789.2,255.3 783.6,252.1 773.6,269.4"/><polygon points="772.4,260.9 781.8,243.2 776.1,240.2 795.2,228.8 796.4,251.0 790.6,247.9 781.3,265.6"/><polygon points="785.2,241.1 794.9,223.6 789.2,220.5 808.5,209.4 809.3,231.6 803.6,228.5 793.9,246.0"/><polygon points="796.2,243.6 804.7,225.4 798.8,222.7 817.2,210.3 819.6,232.4 813.7,229.7 805.3,247.8"/><polygon points="805.2,254.6 813.7,236.4 807.8,233.7 826.2,221.3 828.6,243.4 822.7,240.7 814.3,258.8"/><polygon points="813.8,254.6 822.3,236.4 816.4,233.7 834.8,221.3 837.2,243.4 831.3,240.7 822.9,258.8"/><polygon points="825.1,256.6 832.0,237.8 825.9,235.6 843.2,221.7 847.5,243.5 841.4,241.2 834.5,260.0"/><polygon points="830.9,262.9 840.9,245.6 835.3,242.3 854.8,231.6 855.2,253.8 849.6,250.6 839.6,267.9"/><polygon points="845.1,276.2 852.6,257.7 846.5,255.2 864.3,241.9 867.8,263.8 861.8,261.4 854.3,280.0"/><polygon points="854.1,277.2 861.6,258.7 855.5,256.2 873.3,242.9 876.8,264.8 870.8,262.4 863.3,281.0"/><polygon points="864.1,278.2 871.6,259.7 865.5,257.2 883.3,243.9 886.8,265.8 880.8,263.4 873.3,282.0"/><polygon points="872.1,288.2 879.6,269.7 873.5,267.2 891.3,253.9 894.8,275.8 888.8,273.4 881.3,292.0"/><polygon points="880.6,298.2 888.1,279.7 882.0,277.2 899.8,263.9 903.3,285.8 897.3,283.4 889.8,302.0"/><polygon points="888.7,309.2 896.2,290.7 890.1,288.2 907.9,274.9 911.4,296.8 905.4,294.4 897.9,313.0"/><polygon points="897.1,310.2 904.6,291.7 898.5,289.2 916.3,275.9 919.8,297.8 913.8,295.4 906.3,314.0"/><polygon points="906.6,310.2 914.1,291.7 908.0,289.2 925.8,275.9 929.3,297.8 923.3,295.4 915.8,314.0"/><polygon points="916.1,310.2 923.6,291.7 917.5,289.2 935.3,275.9 938.8,297.8 932.8,295.4 925.3,314.0"/><polygon points="925.6,310.2 933.1,291.7 927.0,289.2 944.8,275.9 948.3,297.8 942.3,295.4 934.8,314.0"/><polygon points="935.1,310.2 942.6,291.7 936.5,289.2 954.3,275.9 957.8,297.8 951.8,295.4 944.3,314.0"/><polygon points="944.6,310.2 952.1,291.7 946.0,289.2 963.8,275.9 967.3,297.8 961.3,295.4 953.8,314.0"/><polygon points="954.1,310.2 961.6,291.7 955.5,289.2 973.3,275.9 976.8,297.8 970.8,295.4 963.3,314.0"/><polygon points="963.6,310.2 971.1,291.7 965.0,289.2 982.8,275.9 986.3,297.8 980.3,295.4 972.8,314.0"/><polygon points="973.1,310.2 980.6,291.7 974.5,289.2 992.3,275.9 995.8,297.8 989.8,295.4 982.3,314.0"/><polygon points="982.6,310.2 990.1,291.7 984.0,289.2 1001.8,275.9 1005.3,297.8 999.3,295.4 991.8,314.0"/><polygon points="990.4,298.9 999.8,281.2 994.1,278.2 1013.2,266.8 1014.4,289.0 1008.6,285.9 999.3,303.6"/><polygon points="996.4,289.9 1005.8,272.2 1000.1,269.2 1019.2,257.8 1020.4,280.0 1014.6,276.9 1005.3,294.6"/><polygon points="1002.7,283.1 1011.8,265.3 1006.0,262.3 1024.9,250.6 1026.5,272.8 1020.7,269.8 1011.6,287.6"/><polygon points="1009.2,277.6 1017.7,259.4 1011.8,256.7 1030.2,244.3 1032.6,266.4 1026.7,263.7 1018.3,281.8"/><polygon points="1017.0,307.9 1026.4,290.2 1020.7,287.2 1039.8,275.8 1041.0,298.0 1035.2,294.9 1025.9,312.6"/><polygon points="1035.0,346.5 1035.0,326.5 1028.5,326.5 1040.0,307.5 1051.5,326.5 1045.0,326.5 1045.0,346.5"/><polygon points="1043.5,335.5 1043.5,315.5 1037.0,315.5 1048.5,296.5 1060.0,315.5 1053.5,315.5 1053.5,335.5"/><polygon points="1052.3,324.3 1053.0,304.3 1046.5,304.1 1058.7,285.5 1069.5,304.9 1063.0,304.7 1062.3,324.7"/><polygon points="1060.3,313.0 1062.1,293.1 1055.6,292.5 1068.7,274.6 1078.5,294.5 1072.0,293.9 1070.3,313.9"/><polygon points="1072.0,302.5 1072.0,282.5 1065.5,282.5 1077.0,263.5 1088.5,282.5 1082.0,282.5 1082.0,302.5"/><polygon points="1076.7,312.3 1080.2,292.6 1073.8,291.5 1088.4,274.8 1096.4,295.5 1090.0,294.4 1086.5,314.1"/><polygon points="1085.7,323.9 1089.2,304.2 1082.8,303.1 1097.4,286.4 1105.4,307.1 1099.0,306.0 1095.5,325.7"/><polygon points="1095.7,335.3 1099.2,315.6 1092.8,314.5 1107.4,297.8 1115.4,318.5 1109.0,317.4 1105.5,337.1"/><polygon points="1105.7,346.3 1109.2,326.6 1102.8,325.5 1117.4,308.8 1125.4,329.5 1119.0,328.4 1115.5,348.1"/><polygon points="1115.7,356.7 1119.2,337.0 1112.8,335.9 1127.4,319.2 1135.4,339.9 1129.0,338.8 1125.5,358.5"/><polygon points="1129.5,364.1 1126.0,344.4 1119.6,345.5 1127.6,324.8 1142.2,341.5 1135.8,342.6 1139.3,362.3"/><polygon points="1142.8,372.6 1136.6,353.6 1130.4,355.6 1135.5,334.0 1152.3,348.5 1146.1,350.5 1152.3,369.5"/></g>
<polygon points="111,534.5 136,530.5 161,527.4 180,525.2 197,524.2 217,524.3 237,525 258,526.6 277,529.8 290,532.2 316,536.8 341.5,544.5 360,548.5 380,551 450,551.6 480,552.8 543,554.8 578,536 614,517 620,500 635,445 646,393 656,353 671,310 691,304 703,295 730,280 760,262 790,248 820,238 850,232 880,252 920,292 953,322 984,330 1007,329 1021,327 1034,333 1058,353 1078,343 1098,342 1112,350 1145,377 1146,616.8 111,616.8" fill="#00ffff" fill-opacity="0.5"/>
<polyline points="111,534.5 136,530.5 161,527.4 180,525.2 197,524.2 217,524.3 237,525 258,526.6 277,529.8 290,532.2 316,536.8 341.5,544.5 360,548.5 380,551 450,551.6 480,552.8 543,554.8 578,536 614,517 620,500 635,445 646,393 656,353 671,310 691,304 703,295 730,280 760,262 790,248 820,238 850,232 880,252 920,292 953,322 984,330 1007,329 1021,327 1034,333 1058,353 1078,343 1098,342 1112,350 1145,377" fill="none" stroke="#9cc8ee" stroke-width="1.2"/>
<line x1="1146" y1="172" x2="1146" y2="617.8" stroke="#222" stroke-width="2"/><line x1="110" y1="616.8" x2="1148" y2="616.8" stroke="#222" stroke-width="2"/><line x1="1146" y1="616.8" x2="1152" y2="616.8" stroke="#222" stroke-width="2"/><line x1="1146" y1="605.7" x2="1149" y2="605.7" stroke="#222" stroke-width="2"/><line x1="1146" y1="594.7" x2="1149" y2="594.7" stroke="#222" stroke-width="2"/><line x1="1146" y1="583.6" x2="1149" y2="583.6" stroke="#222" stroke-width="2"/><line x1="1146" y1="572.5" x2="1149" y2="572.5" stroke="#222" stroke-width="2"/><line x1="1146" y1="561.4" x2="1152" y2="561.4" stroke="#222" stroke-width="2"/><line x1="1146" y1="550.4" x2="1149" y2="550.4" stroke="#222" stroke-width="2"/><line x1="1146" y1="539.3" x2="1149" y2="539.3" stroke="#222" stroke-width="2"/><line x1="1146" y1="528.2" x2="1149" y2="528.2" stroke="#222" stroke-width="2"/><line x1="1146" y1="517.2" x2="1149" y2="517.2" stroke="#222" stroke-width="2"/><line x1="1146" y1="506.1" x2="1152" y2="506.1" stroke="#222" stroke-width="2"/><line x1="1146" y1="495.0" x2="1149" y2="495.0" stroke="#222" stroke-width="2"/><line x1="1146" y1="484.0" x2="1149" y2="484.0" stroke="#222" stroke-width="2"/><line x1="1146" y1="472.9" x2="1149" y2="472.9" stroke="#222" stroke-width="2"/><line x1="1146" y1="461.8" x2="1149" y2="461.8" stroke="#222" stroke-width="2"/><line x1="1146" y1="450.7" x2="1152" y2="450.7" stroke="#222" stroke-width="2"/><line x1="1146" y1="439.7" x2="1149" y2="439.7" stroke="#222" stroke-width="2"/><line x1="1146" y1="428.6" x2="1149" y2="428.6" stroke="#222" stroke-width="2"/><line x1="1146" y1="417.5" x2="1149" y2="417.5" stroke="#222" stroke-width="2"/><line x1="1146" y1="406.5" x2="1149" y2="406.5" stroke="#222" stroke-width="2"/><line x1="1146" y1="395.4" x2="1152" y2="395.4" stroke="#222" stroke-width="2"/><line x1="1146" y1="384.3" x2="1149" y2="384.3" stroke="#222" stroke-width="2"/><line x1="1146" y1="373.3" x2="1149" y2="373.3" stroke="#222" stroke-width="2"/><line x1="1146" y1="362.2" x2="1149" y2="362.2" stroke="#222" stroke-width="2"/><line x1="1146" y1="351.1" x2="1149" y2="351.1" stroke="#222" stroke-width="2"/><line x1="1146" y1="340.0" x2="1152" y2="340.0" stroke="#222" stroke-width="2"/><line x1="1146" y1="329.0" x2="1149" y2="329.0" stroke="#222" stroke-width="2"/><line x1="1146" y1="317.9" x2="1149" y2="317.9" stroke="#222" stroke-width="2"/><line x1="1146" y1="306.8" x2="1149" y2="306.8" stroke="#222" stroke-width="2"/><line x1="1146" y1="295.8" x2="1149" y2="295.8" stroke="#222" stroke-width="2"/><line x1="1146" y1="284.7" x2="1152" y2="284.7" stroke="#222" stroke-width="2"/><line x1="1146" y1="273.6" x2="1149" y2="273.6" stroke="#222" stroke-width="2"/><line x1="1146" y1="262.6" x2="1149" y2="262.6" stroke="#222" stroke-width="2"/><line x1="1146" y1="251.5" x2="1149" y2="251.5" stroke="#222" stroke-width="2"/><line x1="1146" y1="240.4" x2="1149" y2="240.4" stroke="#222" stroke-width="2"/><line x1="1146" y1="229.3" x2="1152" y2="229.3" stroke="#222" stroke-width="2"/><line x1="1146" y1="218.3" x2="1149" y2="218.3" stroke="#222" stroke-width="2"/><line x1="1146" y1="207.2" x2="1149" y2="207.2" stroke="#222" stroke-width="2"/><line x1="1146" y1="196.1" x2="1149" y2="196.1" stroke="#222" stroke-width="2"/><line x1="1146" y1="185.1" x2="1149" y2="185.1" stroke="#222" stroke-width="2"/><line x1="1146" y1="174.0" x2="1152" y2="174.0" stroke="#222" stroke-width="2"/><line x1="111.0" y1="616.8" x2="111.0" y2="625.8" stroke="#222" stroke-width="2"/><line x1="147.9" y1="616.8" x2="147.9" y2="621.8" stroke="#222" stroke-width="2"/><line x1="184.8" y1="616.8" x2="184.8" y2="621.8" stroke="#222" stroke-width="2"/><line x1="221.7" y1="616.8" x2="221.7" y2="621.8" stroke="#222" stroke-width="2"/><line x1="258.6" y1="616.8" x2="258.6" y2="625.8" stroke="#222" stroke-width="2"/><line x1="295.5" y1="616.8" x2="295.5" y2="621.8" stroke="#222" stroke-width="2"/><line x1="332.4" y1="616.8" x2="332.4" y2="621.8" stroke="#222" stroke-width="2"/><line x1="369.3" y1="616.8" x2="369.3" y2="621.8" stroke="#222" stroke-width="2"/><line x1="406.2" y1="616.8" x2="406.2" y2="625.8" stroke="#222" stroke-width="2"/><line x1="443.1" y1="616.8" x2="443.1" y2="621.8" stroke="#222" stroke-width="2"/><line x1="480.0" y1="616.8" x2="480.0" y2="621.8" stroke="#222" stroke-width="2"/><line x1="516.9" y1="616.8" x2="516.9" y2="621.8" stroke="#222" stroke-width="2"/><line x1="553.8" y1="616.8" x2="553.8" y2="625.8" stroke="#222" stroke-width="2"/><line x1="590.7" y1="616.8" x2="590.7" y2="621.8" stroke="#222" stroke-width="2"/><line x1="627.6" y1="616.8" x2="627.6" y2="621.8" stroke="#222" stroke-width="2"/><line x1="664.5" y1="616.8" x2="664.5" y2="621.8" stroke="#222" stroke-width="2"/><line x1="701.4" y1="616.8" x2="701.4" y2="625.8" stroke="#222" stroke-width="2"/><line x1="738.3" y1="616.8" x2="738.3" y2="621.8" stroke="#222" stroke-width="2"/><line x1="775.2" y1="616.8" x2="775.2" y2="621.8" stroke="#222" stroke-width="2"/><line x1="812.1" y1="616.8" x2="812.1" y2="621.8" stroke="#222" stroke-width="2"/><line x1="849.0" y1="616.8" x2="849.0" y2="625.8" stroke="#222" stroke-width="2"/><line x1="885.9" y1="616.8" x2="885.9" y2="621.8" stroke="#222" stroke-width="2"/><line x1="922.8" y1="616.8" x2="922.8" y2="621.8" stroke="#222" stroke-width="2"/><line x1="959.7" y1="616.8" x2="959.7" y2="621.8" stroke="#222" stroke-width="2"/><line x1="996.6" y1="616.8" x2="996.6" y2="625.8" stroke="#222" stroke-width="2"/><line x1="1033.5" y1="616.8" x2="1033.5" y2="621.8" stroke="#222" stroke-width="2"/><line x1="1070.4" y1="616.8" x2="1070.4" y2="621.8" stroke="#222" stroke-width="2"/><line x1="1107.3" y1="616.8" x2="1107.3" y2="621.8" stroke="#222" stroke-width="2"/><line x1="1144.2" y1="616.8" x2="1144.2" y2="625.8" stroke="#222" stroke-width="2"/>
<polyline points="111,493 124,483 134,469 153,482 171,460 201,462 216,448 245,452 266,459 277,490 295,500 320,495 338,516 375,537 388,565 393,593 405,575 411,562 421,541 418,515 437,510 475,500 485,516 504,538 513,563 524,572 531,530 540,483 549,449 578,431 615,406 623,348 631,305 640,261 651,227 669,237 697,268 724,288 760,255 799,226 809,228 836,240 863,260 900,293 985,294 1023,258 1030,293 1040,327 1077,283 1084,294 1121,338 1138,354" fill="none" stroke="#ffffff" stroke-opacity="0.7" stroke-width="8" stroke-linejoin="round"/><polyline points="111,493 124,483 134,469 153,482 171,460 201,462 216,448 245,452 266,459 277,490 295,500 320,495 338,516 375,537 388,565 393,593 405,575 411,562 421,541 418,515 437,510 475,500 485,516 504,538 513,563 524,572 531,530 540,483 549,449 578,431 615,406 623,348 631,305 640,261 651,227 669,237 697,268 724,288 760,255 799,226 809,228 836,240 863,260 900,293 985,294 1023,258 1030,293 1040,327 1077,283 1084,294 1121,338 1138,354" fill="none" stroke="#cdc6d0" stroke-width="1.6" stroke-linejoin="round"/>
<polygon points="114.0,475.1 121.8,493.5 127.8,491.0 124.6,512.9 106.6,500.0 112.6,497.4 104.8,479.0" fill="#ff0000" stroke="#5a0000" stroke-width="1.3" stroke-linejoin="miter"/><polygon points="120.8,463.2 129.2,481.3 135.1,478.6 132.7,500.7 114.3,488.3 120.2,485.6 111.7,467.4" fill="#ffff00" stroke="#707000" stroke-width="1.3" stroke-linejoin="miter"/><polygon points="130.6,451.7 138.8,469.9 144.7,467.3 141.9,489.3 123.7,476.6 129.6,474.0 121.5,455.7" fill="#ffff00" stroke="#707000" stroke-width="1.3" stroke-linejoin="miter"/><polygon points="140.0,450.0 146.9,468.8 153.0,466.5 148.7,488.3 131.4,474.4 137.5,472.2 130.6,453.4" fill="#ffff00" stroke="#707000" stroke-width="1.3" stroke-linejoin="miter"/><polygon points="149.3,462.2 157.7,480.3 163.6,477.6 161.2,499.7 142.8,487.3 148.7,484.6 140.2,466.4" fill="#ffff00" stroke="#707000" stroke-width="1.3" stroke-linejoin="miter"/><polygon points="159.3,452.2 167.7,470.3 173.6,467.6 171.2,489.7 152.8,477.3 158.7,474.6 150.2,456.4" fill="#ffff00" stroke="#707000" stroke-width="1.3" stroke-linejoin="miter"/><polygon points="167.8,440.2 176.2,458.3 182.1,455.6 179.7,477.7 161.3,465.3 167.2,462.6 158.7,444.4" fill="#ffff00" stroke="#707000" stroke-width="1.3" stroke-linejoin="miter"/><polygon points="177.3,441.2 185.7,459.3 191.6,456.6 189.2,478.7 170.8,466.3 176.7,463.6 168.2,445.4" fill="#ffff00" stroke="#707000" stroke-width="1.3" stroke-linejoin="miter"/><polygon points="188.3,442.0 195.8,460.6 201.8,458.2 198.3,480.1 180.5,466.8 186.6,464.3 179.1,445.8" fill="#ffff00" stroke="#707000" stroke-width="1.3" stroke-linejoin="miter"/><polygon points="200.7,441.9 206.9,460.9 213.1,458.9 208.0,480.5 191.2,466.0 197.4,464.0 191.2,445.0" fill="#ffff00" stroke="#707000" stroke-width="1.3" stroke-linejoin="miter"/><polygon points="212.2,430.4 221.3,448.2 227.1,445.2 225.5,467.4 206.6,455.7 212.4,452.7 203.3,434.9" fill="#ffff00" stroke="#707000" stroke-width="1.3" stroke-linejoin="miter"/><polygon points="221.3,431.4 230.4,449.2 236.2,446.2 234.6,468.4 215.7,456.7 221.5,453.7 212.4,435.9" fill="#ffff00" stroke="#707000" stroke-width="1.3" stroke-linejoin="miter"/><polygon points="230.4,430.4 239.5,448.2 245.3,445.2 243.7,467.4 224.8,455.7 230.6,452.7 221.5,434.9" fill="#ffff00" stroke="#707000" stroke-width="1.3" stroke-linejoin="miter"/><polygon points="239.6,433.6 249.6,450.9 255.2,447.7 254.8,469.9 235.3,459.2 240.9,455.9 230.9,438.6" fill="#ffff00" stroke="#707000" stroke-width="1.3" stroke-linejoin="miter"/><polygon points="248.9,436.2 260.4,452.5 265.7,448.8 267.2,471.0 246.9,462.0 252.2,458.3 240.7,441.9" fill="#ffff00" stroke="#707000" stroke-width="1.3" stroke-linejoin="miter"/><polygon points="257.6,440.7 270.2,456.2 275.3,452.2 278.3,474.2 257.4,466.6 262.4,462.5 249.8,447.0" fill="#ffff00" stroke="#707000" stroke-width="1.3" stroke-linejoin="miter"/><polygon points="263.7,463.7 277.9,477.8 282.5,473.2 287.8,494.8 266.2,489.5 270.8,484.9 256.7,470.7" fill="#ffff00" stroke="#707000" stroke-width="1.3" stroke-linejoin="miter"/><polygon points="272.9,488.2 287.7,501.6 292.1,496.8 298.5,518.0 276.7,513.9 281.0,509.1 266.2,495.7" fill="#ff0000" stroke="#5a0000" stroke-width="1.3" stroke-linejoin="miter"/><polygon points="282.7,487.2 296.1,502.0 300.9,497.7 305.0,519.5 283.8,513.1 288.6,508.7 275.2,493.9" fill="#ff0000" stroke="#5a0000" stroke-width="1.3" stroke-linejoin="miter"/><polygon points="290.9,483.6 303.2,499.3 308.4,495.3 311.0,517.4 290.2,509.5 295.4,505.5 283.1,489.7" fill="#ff0000" stroke="#5a0000" stroke-width="1.3" stroke-linejoin="miter"/><polygon points="284.0,494.0 302.8,487.1 300.5,481.0 322.3,485.3 308.4,502.6 306.2,496.5 287.4,503.4" fill="#ff0000" stroke="#5a0000" stroke-width="1.3" stroke-linejoin="miter"/><polygon points="302.5,504.9 316.9,491.1 312.4,486.4 334.0,481.5 328.3,502.9 323.8,498.2 309.4,512.1" fill="#ff0000" stroke="#5a0000" stroke-width="1.3" stroke-linejoin="miter"/><polygon points="316.5,520.8 324.6,502.5 318.7,499.9 336.9,487.2 339.7,509.2 333.8,506.6 325.6,524.8" fill="#ff0000" stroke="#5a0000" stroke-width="1.3" stroke-linejoin="miter"/><polygon points="323.9,530.4 333.9,513.1 328.3,509.8 347.8,499.1 348.2,521.3 342.6,518.1 332.6,535.4" fill="#ff0000" stroke="#5a0000" stroke-width="1.3" stroke-linejoin="miter"/><polygon points="373.6,551.4 354.8,544.5 352.6,550.6 338.7,533.3 360.5,529.0 358.2,535.1 377.0,542.0" fill="#ff0000" stroke="#5a0000" stroke-width="1.3" stroke-linejoin="miter"/><polygon points="381.5,550.9 362.2,545.7 360.5,552.0 345.2,536.0 366.5,529.8 364.8,536.0 384.1,541.2" fill="#ff0000" stroke="#5a0000" stroke-width="1.3" stroke-linejoin="miter"/><polygon points="388.3,547.3 368.6,543.8 367.5,550.2 350.8,535.6 371.5,527.6 370.4,534.0 390.1,537.5" fill="#ff0000" stroke="#5a0000" stroke-width="1.3" stroke-linejoin="miter"/><polygon points="394.3,542.7 374.3,542.0 374.1,548.5 355.5,536.3 374.9,525.5 374.7,532.0 394.7,532.7" fill="#ff0000" stroke="#5a0000" stroke-width="1.3" stroke-linejoin="miter"/><polygon points="404.5,559.1 390.1,572.9 394.6,577.6 373.0,582.5 378.7,561.1 383.2,565.8 397.6,551.9" fill="#ff0000" stroke="#5a0000" stroke-width="1.3" stroke-linejoin="miter"/><polygon points="398.5,573.5 398.5,593.5 405.0,593.5 393.5,612.5 382.0,593.5 388.5,593.5 388.5,573.5" fill="#ff0000" stroke="#5a0000" stroke-width="1.3" stroke-linejoin="miter"/><polygon points="390.9,556.2 405.7,569.6 410.1,564.8 416.5,586.0 394.7,581.9 399.0,577.1 384.2,563.7" fill="#ff0000" stroke="#5a0000" stroke-width="1.3" stroke-linejoin="miter"/><polygon points="396.9,545.7 414.7,554.8 417.7,549.0 429.4,567.9 407.2,569.5 410.2,563.7 392.4,554.6" fill="#ff0000" stroke="#5a0000" stroke-width="1.3" stroke-linejoin="miter"/><polygon points="404.4,528.1 423.2,535.0 425.4,528.9 439.3,546.2 417.5,550.5 419.8,544.4 401.0,537.5" fill="#ff0000" stroke="#5a0000" stroke-width="1.3" stroke-linejoin="miter"/><polygon points="411.0,505.7 429.6,498.2 427.2,492.2 449.1,495.7 435.8,513.5 433.3,507.4 414.8,514.9" fill="#ff0000" stroke="#5a0000" stroke-width="1.3" stroke-linejoin="miter"/><polygon points="420.3,513.0 440.2,512.0 439.9,505.5 459.5,516.0 441.1,528.5 440.8,522.0 420.8,523.0" fill="#ff0000" stroke="#5a0000" stroke-width="1.3" stroke-linejoin="miter"/><polygon points="429.5,500.0 449.5,500.0 449.5,493.5 468.5,505.0 449.5,516.5 449.5,510.0 429.5,510.0" fill="#ff0000" stroke="#5a0000" stroke-width="1.3" stroke-linejoin="miter"/><polygon points="439.0,500.0 459.0,500.0 459.0,493.5 478.0,505.0 459.0,516.5 459.0,510.0 439.0,510.0" fill="#ff0000" stroke="#5a0000" stroke-width="1.3" stroke-linejoin="miter"/><polygon points="444.1,502.7 464.1,501.0 463.5,494.5 483.4,504.3 465.5,517.4 464.9,510.9 445.0,512.7" fill="#ff0000" stroke="#5a0000" stroke-width="1.3" stroke-linejoin="miter"/><polygon points="452.1,502.7 472.1,501.0 471.5,494.5 491.4,504.3 473.5,517.4 472.9,510.9 453.0,512.7" fill="#ff0000" stroke="#5a0000" stroke-width="1.3" stroke-linejoin="miter"/><polygon points="455.9,500.5 475.6,497.0 474.5,490.6 495.2,498.6 478.5,513.2 477.4,506.8 457.7,510.3" fill="#ff0000" stroke="#5a0000" stroke-width="1.3" stroke-linejoin="miter"/><polygon points="467.0,516.0 485.8,509.1 483.5,503.0 505.3,507.3 491.4,524.6 489.2,518.5 470.4,525.4" fill="#ff0000" stroke="#5a0000" stroke-width="1.3" stroke-linejoin="miter"/><polygon points="476.4,533.7 492.4,521.7 488.5,516.5 510.6,514.3 502.3,534.9 498.4,529.7 482.4,541.7" fill="#ff0000" stroke="#5a0000" stroke-width="1.3" stroke-linejoin="miter"/><polygon points="490.2,552.6 500.5,535.5 494.9,532.1 514.5,521.8 514.6,544.0 509.0,540.6 498.7,557.8" fill="#ff0000" stroke="#5a0000" stroke-width="1.3" stroke-linejoin="miter"/><polygon points="498.4,576.9 509.0,559.9 503.5,556.5 523.3,546.5 523.0,568.7 517.5,565.2 506.9,582.2" fill="#ff0000" stroke="#5a0000" stroke-width="1.3" stroke-linejoin="miter"/><polygon points="518.8,591.3 519.5,571.3 513.0,571.1 525.2,552.5 536.0,571.9 529.5,571.7 528.8,591.7" fill="#ff0000" stroke="#5a0000" stroke-width="1.3" stroke-linejoin="miter"/><polygon points="514.6,540.6 528.0,525.8 523.2,521.4 544.4,515.0 540.3,536.8 535.5,532.5 522.1,547.3" fill="#ff0000" stroke="#5a0000" stroke-width="1.3" stroke-linejoin="miter"/><polygon points="520.5,485.7 539.1,478.2 536.7,472.2 558.6,475.7 545.3,493.5 542.8,487.4 524.3,494.9" fill="#ffff00" stroke="#707000" stroke-width="1.3" stroke-linejoin="miter"/><polygon points="530.9,452.3 549.9,446.1 547.9,439.9 569.5,445.0 555.0,461.8 553.0,455.6 534.0,461.8" fill="#ffff00" stroke="#707000" stroke-width="1.3" stroke-linejoin="miter"/><polygon points="558.4,431.2 577.7,426.0 576.0,419.8 597.3,426.0 582.0,442.0 580.3,435.7 561.0,440.9" fill="#ffff00" stroke="#707000" stroke-width="1.3" stroke-linejoin="miter"/><polygon points="565.0,431.0 583.8,424.1 581.5,418.0 603.3,422.3 589.4,439.6 587.2,433.5 568.4,440.4" fill="#ffff00" stroke="#707000" stroke-width="1.3" stroke-linejoin="miter"/><polygon points="540.2,422.1 555.9,409.8 551.9,404.6 574.0,402.0 566.1,422.8 562.1,417.6 546.3,429.9" fill="#00f000" stroke="#0a6a0a" stroke-width="1.3" stroke-linejoin="miter"/><polygon points="550.0,426.6 564.7,413.0 560.2,408.2 582.0,403.7 575.9,425.1 571.5,420.3 556.8,434.0" fill="#00f000" stroke="#0a6a0a" stroke-width="1.3" stroke-linejoin="miter"/><polygon points="578.4,422.3 597.4,416.1 595.4,409.9 617.0,415.0 602.5,431.8 600.5,425.6 581.5,431.8" fill="#00f000" stroke="#0a6a0a" stroke-width="1.3" stroke-linejoin="miter"/><polygon points="583.8,421.5 602.2,413.7 599.7,407.7 621.6,410.9 608.7,428.9 606.1,422.9 587.7,430.7" fill="#00f000" stroke="#0a6a0a" stroke-width="1.3" stroke-linejoin="miter"/><polygon points="595.2,409.7 613.3,401.3 610.6,395.4 632.7,397.8 620.3,416.2 617.6,410.3 599.4,418.8" fill="#00f000" stroke="#0a6a0a" stroke-width="1.3" stroke-linejoin="miter"/><polygon points="604.2,355.1 620.5,343.6 616.8,338.3 639.0,336.8 630.0,357.1 626.3,351.8 609.9,363.3" fill="#00f000" stroke="#0a6a0a" stroke-width="1.3" stroke-linejoin="miter"/><polygon points="615.7,313.4 631.2,300.8 627.2,295.7 649.2,292.7 641.6,313.6 637.5,308.6 622.0,321.2" fill="#00f000" stroke="#0a6a0a" stroke-width="1.3" stroke-linejoin="miter"/><polygon points="622.0,270.5 637.1,257.4 632.8,252.5 654.7,248.7 647.9,269.9 643.7,264.9 628.6,278.1" fill="#00f000" stroke="#0a6a0a" stroke-width="1.3" stroke-linejoin="miter"/><polygon points="641.1,243.2 648.6,224.7 642.5,222.2 660.3,208.9 663.8,230.8 657.8,228.4 650.3,247.0" fill="#c47a2c" stroke="#3a2410" stroke-width="1.3" stroke-linejoin="miter"/><polygon points="645.9,252.9 655.9,235.6 650.3,232.3 669.8,221.6 670.2,243.8 664.6,240.6 654.6,257.9" fill="#00f000" stroke="#0a6a0a" stroke-width="1.3" stroke-linejoin="miter"/><polygon points="654.4,250.9 665.0,233.9 659.5,230.5 679.3,220.5 679.0,242.7 673.5,239.2 662.9,256.2" fill="#00f000" stroke="#0a6a0a" stroke-width="1.3" stroke-linejoin="miter"/><polygon points="663.6,260.7 676.5,245.4 671.5,241.2 692.5,234.1 689.1,256.0 684.2,251.8 671.3,267.2" fill="#00f000" stroke="#0a6a0a" stroke-width="1.3" stroke-linejoin="miter"/><polygon points="671.6,270.7 684.5,255.4 679.5,251.2 700.5,244.1 697.1,266.0 692.2,261.8 679.3,277.2" fill="#00f000" stroke="#0a6a0a" stroke-width="1.3" stroke-linejoin="miter"/><polygon points="680.2,279.6 693.6,264.8 688.8,260.4 710.0,254.0 705.9,275.8 701.1,271.5 687.7,286.3" fill="#00f000" stroke="#0a6a0a" stroke-width="1.3" stroke-linejoin="miter"/><polygon points="685.2,284.1 698.6,269.3 693.8,264.9 715.0,258.5 710.9,280.3 706.1,276.0 692.7,290.8" fill="#00f000" stroke="#0a6a0a" stroke-width="1.3" stroke-linejoin="miter"/><polygon points="694.7,293.3 708.8,279.1 704.2,274.5 725.8,269.2 720.5,290.8 715.9,286.2 701.7,300.3" fill="#00f000" stroke="#0a6a0a" stroke-width="1.3" stroke-linejoin="miter"/><polygon points="707.3,297.9 721.4,283.7 716.8,279.1 738.4,273.8 733.1,295.4 728.5,290.8 714.3,304.9" fill="#00f000" stroke="#0a6a0a" stroke-width="1.3" stroke-linejoin="miter"/><polygon points="724.6,281.7 737.5,266.4 732.5,262.2 753.5,255.1 750.1,277.0 745.2,272.8 732.3,288.2" fill="#00f000" stroke="#0a6a0a" stroke-width="1.3" stroke-linejoin="miter"/><polygon points="735.1,277.3 747.4,261.5 742.2,257.5 763.0,249.6 760.4,271.7 755.2,267.7 742.9,283.4" fill="#00f000" stroke="#0a6a0a" stroke-width="1.3" stroke-linejoin="miter"/><polygon points="745.7,273.1 757.2,256.7 751.9,253.0 772.2,244.0 770.7,266.2 765.4,262.5 753.9,278.8" fill="#00f000" stroke="#0a6a0a" stroke-width="1.3" stroke-linejoin="miter"/><polygon points="756.4,268.9 767.0,251.9 761.5,248.5 781.3,238.5 781.0,260.7 775.5,257.2 764.9,274.2" fill="#00f000" stroke="#0a6a0a" stroke-width="1.3" stroke-linejoin="miter"/><polygon points="764.9,264.4 774.9,247.1 769.3,243.8 788.8,233.1 789.2,255.3 783.6,252.1 773.6,269.4" fill="#00f000" stroke="#0a6a0a" stroke-width="1.3" stroke-linejoin="miter"/><polygon points="772.4,260.9 781.8,243.2 776.1,240.2 795.2,228.8 796.4,251.0 790.6,247.9 781.3,265.6" fill="#00f000" stroke="#0a6a0a" stroke-width="1.3" stroke-linejoin="miter"/><polygon points="785.2,241.1 794.9,223.6 789.2,220.5 808.5,209.4 809.3,231.6 803.6,228.5 793.9,246.0" fill="#c47a2c" stroke="#3a2410" stroke-width="1.3" stroke-linejoin="miter"/><polygon points="796.2,243.6 804.7,225.4 798.8,222.7 817.2,210.3 819.6,232.4 813.7,229.7 805.3,247.8" fill="#c47a2c" stroke="#3a2410" stroke-width="1.3" stroke-linejoin="miter"/><polygon points="805.2,254.6 813.7,236.4 807.8,233.7 826.2,221.3 828.6,243.4 822.7,240.7 814.3,258.8" fill="#00f000" stroke="#0a6a0a" stroke-width="1.3" stroke-linejoin="miter"/><polygon points="813.8,254.6 822.3,236.4 816.4,233.7 834.8,221.3 837.2,243.4 831.3,240.7 822.9,258.8" fill="#00f000" stroke="#0a6a0a" stroke-width="1.3" stroke-linejoin="miter"/><polygon points="825.1,256.6 832.0,237.8 825.9,235.6 843.2,221.7 847.5,243.5 841.4,241.2 834.5,260.0" fill="#00f000" stroke="#0a6a0a" stroke-width="1.3" stroke-linejoin="miter"/><polygon points="830.9,262.9 840.9,245.6 835.3,242.3 854.8,231.6 855.2,253.8 849.6,250.6 839.6,267.9" fill="#00f000" stroke="#0a6a0a" stroke-width="1.3" stroke-linejoin="miter"/><polygon points="845.1,276.2 852.6,257.7 846.5,255.2 864.3,241.9 867.8,263.8 861.8,261.4 854.3,280.0" fill="#00f000" stroke="#0a6a0a" stroke-width="1.3" stroke-linejoin="miter"/><polygon points="854.1,277.2 861.6,258.7 855.5,256.2 873.3,242.9 876.8,264.8 870.8,262.4 863.3,281.0" fill="#00f000" stroke="#0a6a0a" stroke-width="1.3" stroke-linejoin="miter"/><polygon points="864.1,278.2 871.6,259.7 865.5,257.2 883.3,243.9 886.8,265.8 880.8,263.4 873.3,282.0" fill="#00f000" stroke="#0a6a0a" stroke-width="1.3" stroke-linejoin="miter"/><polygon points="872.1,288.2 879.6,269.7 873.5,267.2 891.3,253.9 894.8,275.8 888.8,273.4 881.3,292.0" fill="#00f000" stroke="#0a6a0a" stroke-width="1.3" stroke-linejoin="miter"/><polygon points="880.6,298.2 888.1,279.7 882.0,277.2 899.8,263.9 903.3,285.8 897.3,283.4 889.8,302.0" fill="#00f000" stroke="#0a6a0a" stroke-width="1.3" stroke-linejoin="miter"/><polygon points="888.7,309.2 896.2,290.7 890.1,288.2 907.9,274.9 911.4,296.8 905.4,294.4 897.9,313.0" fill="#00f000" stroke="#0a6a0a" stroke-width="1.3" stroke-linejoin="miter"/><polygon points="897.1,310.2 904.6,291.7 898.5,289.2 916.3,275.9 919.8,297.8 913.8,295.4 906.3,314.0" fill="#00f000" stroke="#0a6a0a" stroke-width="1.3" stroke-linejoin="miter"/><polygon points="906.6,310.2 914.1,291.7 908.0,289.2 925.8,275.9 929.3,297.8 923.3,295.4 915.8,314.0" fill="#00f000" stroke="#0a6a0a" stroke-width="1.3" stroke-linejoin="miter"/><polygon points="916.1,310.2 923.6,291.7 917.5,289.2 935.3,275.9 938.8,297.8 932.8,295.4 925.3,314.0" fill="#00f000" stroke="#0a6a0a" stroke-width="1.3" stroke-linejoin="miter"/><polygon points="925.6,310.2 933.1,291.7 927.0,289.2 944.8,275.9 948.3,297.8 942.3,295.4 934.8,314.0" fill="#00f000" stroke="#0a6a0a" stroke-width="1.3" stroke-linejoin="miter"/><polygon points="935.1,310.2 942.6,291.7 936.5,289.2 954.3,275.9 957.8,297.8 951.8,295.4 944.3,314.0" fill="#00f000" stroke="#0a6a0a" stroke-width="1.3" stroke-linejoin="miter"/><polygon points="944.6,310.2 952.1,291.7 946.0,289.2 963.8,275.9 967.3,297.8 961.3,295.4 953.8,314.0" fill="#00f000" stroke="#0a6a0a" stroke-width="1.3" stroke-linejoin="miter"/><polygon points="954.1,310.2 961.6,291.7 955.5,289.2 973.3,275.9 976.8,297.8 970.8,295.4 963.3,314.0" fill="#00f000" stroke="#0a6a0a" stroke-width="1.3" stroke-linejoin="miter"/><polygon points="963.6,310.2 971.1,291.7 965.0,289.2 982.8,275.9 986.3,297.8 980.3,295.4 972.8,314.0" fill="#00f000" stroke="#0a6a0a" stroke-width="1.3" stroke-linejoin="miter"/><polygon points="973.1,310.2 980.6,291.7 974.5,289.2 992.3,275.9 995.8,297.8 989.8,295.4 982.3,314.0" fill="#00f000" stroke="#0a6a0a" stroke-width="1.3" stroke-linejoin="miter"/><polygon points="982.6,310.2 990.1,291.7 984.0,289.2 1001.8,275.9 1005.3,297.8 999.3,295.4 991.8,314.0" fill="#00f000" stroke="#0a6a0a" stroke-width="1.3" stroke-linejoin="miter"/><polygon points="990.4,298.9 999.8,281.2 994.1,278.2 1013.2,266.8 1014.4,289.0 1008.6,285.9 999.3,303.6" fill="#00f000" stroke="#0a6a0a" stroke-width="1.3" stroke-linejoin="miter"/><polygon points="996.4,289.9 1005.8,272.2 1000.1,269.2 1019.2,257.8 1020.4,280.0 1014.6,276.9 1005.3,294.6" fill="#00f000" stroke="#0a6a0a" stroke-width="1.3" stroke-linejoin="miter"/><polygon points="1002.7,283.1 1011.8,265.3 1006.0,262.3 1024.9,250.6 1026.5,272.8 1020.7,269.8 1011.6,287.6" fill="#00f000" stroke="#0a6a0a" stroke-width="1.3" stroke-linejoin="miter"/><polygon points="1009.2,277.6 1017.7,259.4 1011.8,256.7 1030.2,244.3 1032.6,266.4 1026.7,263.7 1018.3,281.8" fill="#00f000" stroke="#0a6a0a" stroke-width="1.3" stroke-linejoin="miter"/><polygon points="1017.0,307.9 1026.4,290.2 1020.7,287.2 1039.8,275.8 1041.0,298.0 1035.2,294.9 1025.9,312.6" fill="#00f000" stroke="#0a6a0a" stroke-width="1.3" stroke-linejoin="miter"/><polygon points="1035.0,346.5 1035.0,326.5 1028.5,326.5 1040.0,307.5 1051.5,326.5 1045.0,326.5 1045.0,346.5" fill="#00f000" stroke="#0a6a0a" stroke-width="1.3" stroke-linejoin="miter"/><polygon points="1043.5,335.5 1043.5,315.5 1037.0,315.5 1048.5,296.5 1060.0,315.5 1053.5,315.5 1053.5,335.5" fill="#00f000" stroke="#0a6a0a" stroke-width="1.3" stroke-linejoin="miter"/><polygon points="1052.3,324.3 1053.0,304.3 1046.5,304.1 1058.7,285.5 1069.5,304.9 1063.0,304.7 1062.3,324.7" fill="#00f000" stroke="#0a6a0a" stroke-width="1.3" stroke-linejoin="miter"/><polygon points="1060.3,313.0 1062.1,293.1 1055.6,292.5 1068.7,274.6 1078.5,294.5 1072.0,293.9 1070.3,313.9" fill="#00f000" stroke="#0a6a0a" stroke-width="1.3" stroke-linejoin="miter"/><polygon points="1072.0,302.5 1072.0,282.5 1065.5,282.5 1077.0,263.5 1088.5,282.5 1082.0,282.5 1082.0,302.5" fill="#00f000" stroke="#0a6a0a" stroke-width="1.3" stroke-linejoin="miter"/><polygon points="1076.7,312.3 1080.2,292.6 1073.8,291.5 1088.4,274.8 1096.4,295.5 1090.0,294.4 1086.5,314.1" fill="#00f000" stroke="#0a6a0a" stroke-width="1.3" stroke-linejoin="miter"/><polygon points="1085.7,323.9 1089.2,304.2 1082.8,303.1 1097.4,286.4 1105.4,307.1 1099.0,306.0 1095.5,325.7" fill="#00f000" stroke="#0a6a0a" stroke-width="1.3" stroke-linejoin="miter"/><polygon points="1095.7,335.3 1099.2,315.6 1092.8,314.5 1107.4,297.8 1115.4,318.5 1109.0,317.4 1105.5,337.1" fill="#00f000" stroke="#0a6a0a" stroke-width="1.3" stroke-linejoin="miter"/><polygon points="1105.7,346.3 1109.2,326.6 1102.8,325.5 1117.4,308.8 1125.4,329.5 1119.0,328.4 1115.5,348.1" fill="#00f000" stroke="#0a6a0a" stroke-width="1.3" stroke-linejoin="miter"/><polygon points="1115.7,356.7 1119.2,337.0 1112.8,335.9 1127.4,319.2 1135.4,339.9 1129.0,338.8 1125.5,358.5" fill="#00f000" stroke="#0a6a0a" stroke-width="1.3" stroke-linejoin="miter"/><polygon points="1129.5,364.1 1126.0,344.4 1119.6,345.5 1127.6,324.8 1142.2,341.5 1135.8,342.6 1139.3,362.3" fill="#00f000" stroke="#0a6a0a" stroke-width="1.3" stroke-linejoin="miter"/><polygon points="1142.8,372.6 1136.6,353.6 1130.4,355.6 1135.5,334.0 1152.3,348.5 1146.1,350.5 1152.3,369.5" fill="#00f000" stroke="#0a6a0a" stroke-width="1.3" stroke-linejoin="miter"/>
<line x1="111" y1="172" x2="111" y2="617.8" stroke="#222" stroke-width="2"/><line x1="104" y1="616.8" x2="111" y2="616.8" stroke="#222" stroke-width="2"/><line x1="107" y1="600.9" x2="111" y2="600.9" stroke="#222" stroke-width="2"/><line x1="107" y1="585.1" x2="111" y2="585.1" stroke="#222" stroke-width="2"/><line x1="107" y1="569.2" x2="111" y2="569.2" stroke="#222" stroke-width="2"/><line x1="104" y1="553.4" x2="111" y2="553.4" stroke="#222" stroke-width="2"/><line x1="107" y1="537.5" x2="111" y2="537.5" stroke="#222" stroke-width="2"/><line x1="107" y1="521.7" x2="111" y2="521.7" stroke="#222" stroke-width="2"/><line x1="107" y1="505.8" x2="111" y2="505.8" stroke="#222" stroke-width="2"/><line x1="104" y1="490.0" x2="111" y2="490.0" stroke="#222" stroke-width="2"/><line x1="107" y1="474.1" x2="111" y2="474.1" stroke="#222" stroke-width="2"/><line x1="107" y1="458.3" x2="111" y2="458.3" stroke="#222" stroke-width="2"/><line x1="107" y1="442.4" x2="111" y2="442.4" stroke="#222" stroke-width="2"/><line x1="104" y1="426.6" x2="111" y2="426.6" stroke="#222" stroke-width="2"/><line x1="107" y1="410.8" x2="111" y2="410.8" stroke="#222" stroke-width="2"/><line x1="107" y1="394.9" x2="111" y2="394.9" stroke="#222" stroke-width="2"/><line x1="107" y1="379.0" x2="111" y2="379.0" stroke="#222" stroke-width="2"/><line x1="104" y1="363.2" x2="111" y2="363.2" stroke="#222" stroke-width="2"/><line x1="107" y1="347.3" x2="111" y2="347.3" stroke="#222" stroke-width="2"/><line x1="107" y1="331.5" x2="111" y2="331.5" stroke="#222" stroke-width="2"/><line x1="107" y1="315.6" x2="111" y2="315.6" stroke="#222" stroke-width="2"/><line x1="104" y1="299.8" x2="111" y2="299.8" stroke="#222" stroke-width="2"/><line x1="107" y1="283.9" x2="111" y2="283.9" stroke="#222" stroke-width="2"/><line x1="107" y1="268.1" x2="111" y2="268.1" stroke="#222" stroke-width="2"/><line x1="107" y1="252.2" x2="111" y2="252.2" stroke="#222" stroke-width="2"/><line x1="104" y1="236.4" x2="111" y2="236.4" stroke="#222" stroke-width="2"/><line x1="107" y1="220.5" x2="111" y2="220.5" stroke="#222" stroke-width="2"/><line x1="107" y1="204.7" x2="111" y2="204.7" stroke="#222" stroke-width="2"/><line x1="107" y1="188.8" x2="111" y2="188.8" stroke="#222" stroke-width="2"/><line x1="104" y1="173.0" x2="111" y2="173.0" stroke="#222" stroke-width="2"/>
<text x="91" y="622.8" text-anchor="end" font-size="18" fill="#111">0</text><text x="91" y="559.4" text-anchor="end" font-size="18" fill="#111">1</text><text x="91" y="496.0" text-anchor="end" font-size="18" fill="#111">2</text><text x="91" y="432.6" text-anchor="end" font-size="18" fill="#111">3</text><text x="91" y="369.2" text-anchor="end" font-size="18" fill="#111">4</text><text x="91" y="305.8" text-anchor="end" font-size="18" fill="#111">5</text><text x="91" y="242.4" text-anchor="end" font-size="18" fill="#111">6</text><text x="91" y="179.0" text-anchor="end" font-size="18" fill="#111">7</text><text x="1156.5" y="622.8" font-size="18" fill="#111">0</text><text x="1156.5" y="567.4" font-size="18" fill="#111">5</text><text x="1156.5" y="512.1" font-size="18" fill="#111">10</text><text x="1156.5" y="456.7" font-size="18" fill="#111">15</text><text x="1156.5" y="401.4" font-size="18" fill="#111">20</text><text x="1156.5" y="346.0" font-size="18" fill="#111">25</text><text x="1156.5" y="290.7" font-size="18" fill="#111">30</text><text x="1156.5" y="235.3" font-size="18" fill="#111">35</text><text x="1156.5" y="180.0" font-size="18" fill="#111">40</text><text x="184.8" y="645.6" text-anchor="middle" font-size="18" font-weight="bold" fill="#111">Saturday</text><text x="184.8" y="666.6" text-anchor="middle" font-size="17.5" letter-spacing="0.4" fill="#111">11th</text><text x="332.4" y="645.6" text-anchor="middle" font-size="18" font-weight="bold" fill="#111">Sunday</text><text x="332.4" y="666.6" text-anchor="middle" font-size="17.5" letter-spacing="0.4" fill="#111">12th</text><text x="480.0" y="645.6" text-anchor="middle" font-size="18" font-weight="normal" fill="#111">Monday</text><text x="480.0" y="666.6" text-anchor="middle" font-size="17.5" letter-spacing="0.4" fill="#111">13th</text><text x="627.6" y="645.6" text-anchor="middle" font-size="18" font-weight="normal" fill="#111">Tuesday</text><text x="627.6" y="666.6" text-anchor="middle" font-size="17.5" letter-spacing="0.4" fill="#111">14th</text><text x="775.2" y="645.6" text-anchor="middle" font-size="18" font-weight="normal" fill="#111">Wednesday</text><text x="775.2" y="666.6" text-anchor="middle" font-size="17.5" letter-spacing="0.4" fill="#111">15th</text><text x="922.8" y="645.6" text-anchor="middle" font-size="18" font-weight="normal" fill="#111">Thursday</text><text x="922.8" y="666.6" text-anchor="middle" font-size="17.5" letter-spacing="0.4" fill="#111">16th</text><text x="1070.4" y="645.6" text-anchor="middle" font-size="18" font-weight="normal" fill="#111">Friday</text><text x="1070.4" y="666.6" text-anchor="middle" font-size="17.5" letter-spacing="0.4" fill="#111">17th</text><text transform="translate(66,394) rotate(-90)" text-anchor="middle" font-size="19.4" font-weight="bold" fill="#111">Wave Height - Metres</text><text transform="translate(1192,395) rotate(90)" text-anchor="middle" font-size="19" font-weight="bold" fill="#111">Wind Speed - Knots</text><text x="1136" y="600.8" text-anchor="end" font-size="17.8" fill="#4f9296">seabreeze.com.au</text>
</svg></body></html>
